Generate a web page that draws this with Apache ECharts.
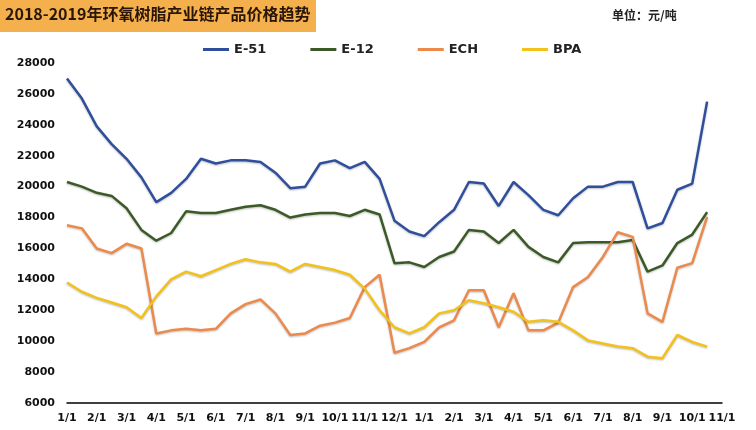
<!DOCTYPE html>
<html>
<head>
<meta charset="utf-8">
<script src="https://cdn.jsdelivr.net/npm/echarts@6/dist/echarts.min.js"></script>
<style>
html,body{margin:0;padding:0;background:#fff;}
#main{width:756px;height:430px;}
</style>
</head>
<body>
<div id="main"></div>
<script>
// 半月一个点，2018/1/1 - 2019/11/1
var dates = ['1/1','','2/1','','3/1','','4/1','','5/1','','6/1','','7/1','','8/1','','9/1','','10/1','','11/1','',
             '12/1','','1/1','','2/1','','3/1','','4/1','','5/1','','6/1','','7/1','','8/1','','9/1','','10/1','','11/1'];

var e51 = [27000,25700,23900,22750,21800,20600,19000,19600,20500,21800,21500,21700,21700,21600,20900,19900,20000,21500,21700,21200,21600,20500,
           17800,17100,16800,17700,18500,20300,20200,18750,20300,19450,18500,18150,19250,20000,20000,20300,20300,17300,17650,19800,20200,25500];
var e12 = [20300,20000,19600,19400,18600,17200,16500,17000,18400,18300,18300,18500,18700,18800,18500,18000,18200,18300,18300,18100,18500,18200,
           15050,15100,14800,15450,15800,17200,17100,16350,17200,16100,15450,15100,16350,16400,16400,16400,16550,14500,14900,16350,16900,18350];
var ech = [17500,17300,16000,15700,16300,16000,10500,10700,10800,10700,10800,11800,12400,12700,11800,10400,10500,11000,11200,11500,13500,14300,
           9250,9550,9950,10900,11350,13300,13300,10900,13100,10700,10700,11200,13500,14150,15450,17050,16750,11800,11250,14750,15050,18050];
var bpa = [13800,13200,12800,12500,12200,11500,12900,14000,14500,14200,14600,15000,15300,15100,15000,14500,15000,14800,14600,14300,13400,12000,
           10900,10500,10900,11800,12000,12650,12450,12200,11900,11250,11350,11250,10700,10050,9850,9650,9550,9000,8900,10400,9950,9650];

var myChart = echarts.init(document.getElementById('main'));

function line(name, data, color){
    return {
        name: name,
        type: 'line',
        data: data,
        symbol: 'none',
        lineStyle: {width: 2.5, color: color, shadowColor: 'rgba(0,0,0,0.25)', shadowBlur: 2, shadowOffsetY: 1},
        itemStyle: {color: color}
    };
}

var option = {
    backgroundColor: '#fff',
    textStyle: {fontFamily: '"Noto Sans CJK SC", "DejaVu Sans", sans-serif'},
    graphic: [
        {type: 'rect', left: 0, top: 0, shape: {width: 316, height: 32}, style: {fill: '#f4b04c'}},
        {type: 'text', left: 5, top: 6, style: {text: '2018-2019年环氧树脂产业链产品价格趋势', font: 'bold 16px "Noto Sans CJK SC"', fill: '#2a1608'}},
        {type: 'text', left: 612, top: 9, style: {text: '单位：元/吨', font: 'bold 12px "Noto Sans CJK SC"', fill: '#222'}}
    ],
    legend: {
        top: 38,
        left: 198,
        itemGap: 44,
        itemWidth: 26,
        itemHeight: 3,
        icon: 'rect',
        textStyle: {fontWeight: 'bold', fontSize: 13, color: '#222', fontFamily: 'DejaVu Sans'},
        data: ['E-51','E-12','ECH','BPA']
    },
    grid: {left: 67, right: 34, top: 63, bottom: 27},
    xAxis: {
        type: 'category',
        boundaryGap: false,
        data: dates,
        axisLine: {lineStyle: {color: '#000', width: 1.5}},
        axisTick: {show: false},
        axisLabel: {interval: 0, fontWeight: 'bold', fontSize: 11, color: '#111', fontFamily: 'DejaVu Sans', margin: 10}
    },
    yAxis: {
        type: 'value',
        min: 6000,
        max: 28000,
        interval: 2000,
        axisLine: {show: false},
        axisTick: {show: false},
        splitLine: {show: false},
        axisLabel: {formatter: function (v) { return String(v); }, fontWeight: 'bold', fontSize: 11, color: '#111', fontFamily: 'DejaVu Sans', margin: 12}
    },
    series: [
        line('E-51', e51, '#2f4f9c'),
        line('E-12', e12, '#3c5a27'),
        line('ECH', ech, '#ec8a4c'),
        line('BPA', bpa, '#f2c21a')
    ]
};

myChart.setOption(option);
</script>
</body>
</html>
